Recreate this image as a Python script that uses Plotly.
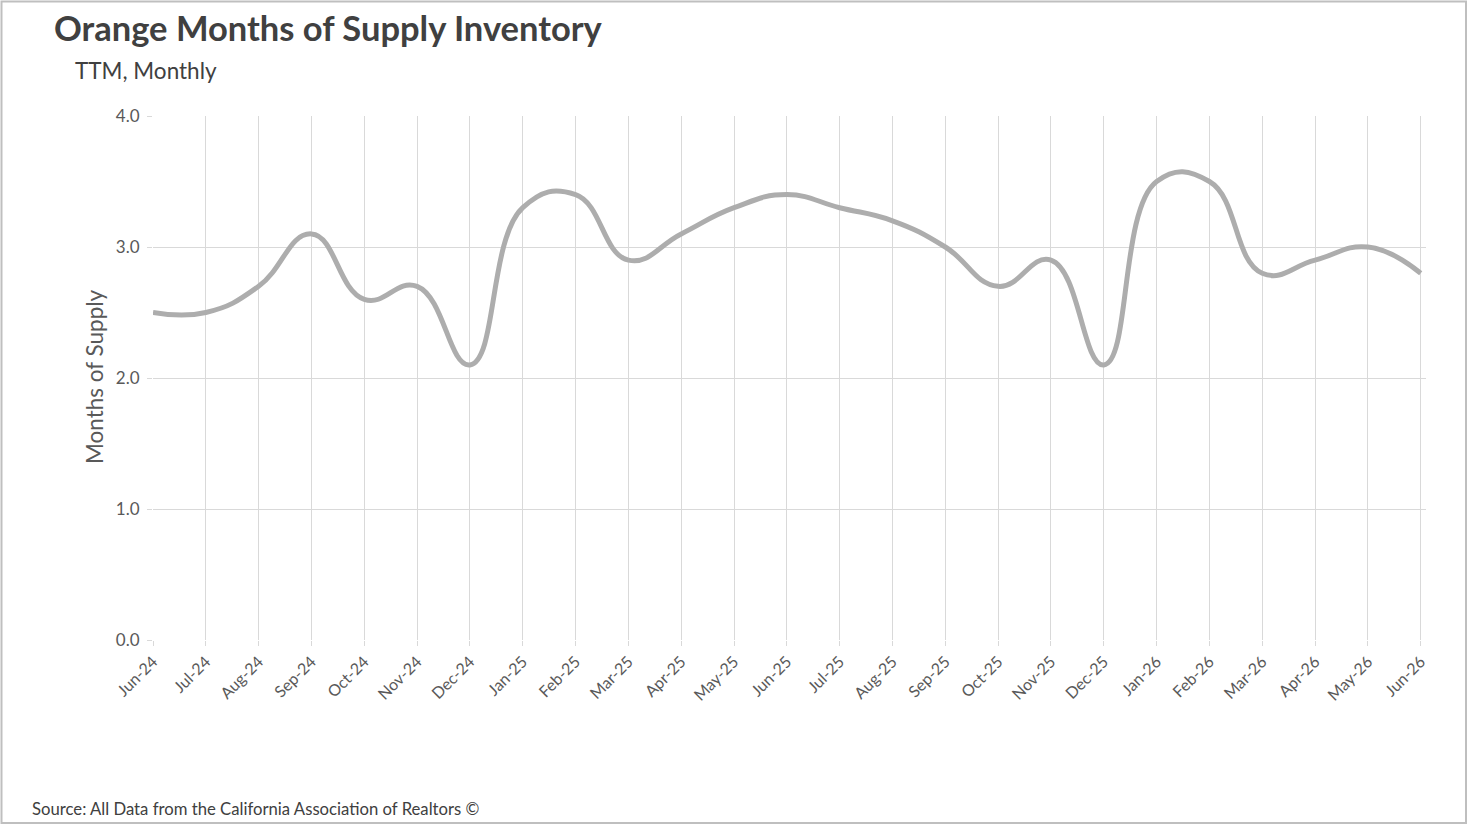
import plotly.graph_objects as go

months = ['Jun-24', 'Jul-24', 'Aug-24', 'Sep-24', 'Oct-24', 'Nov-24', 'Dec-24',
          'Jan-25', 'Feb-25', 'Mar-25', 'Apr-25', 'May-25', 'Jun-25', 'Jul-25',
          'Aug-25', 'Sep-25', 'Oct-25', 'Nov-25', 'Dec-25', 'Jan-26', 'Feb-26',
          'Mar-26', 'Apr-26', 'May-26', 'Jun-26']
supply = [2.5, 2.5, 2.7, 3.1, 2.6, 2.7, 2.1,
          3.3, 3.4, 2.9, 3.1, 3.3, 3.4, 3.3,
          3.2, 3.0, 2.7, 2.9, 2.1, 3.5, 3.5,
          2.8, 2.9, 3.0, 2.8]
y_ticks = [0, 1, 2, 3, 4]

W, H = 1470, 826
L, R, T, B = 153, 1426, 116, 640   # plot area in pixels


def px(p):
    return (p - L) / (R - L)


def py(p):
    return (B - p) / (B - T)


fig = go.Figure()
fig.add_trace(go.Scatter(
    x=list(range(len(months))),
    y=supply,
    mode='lines',
    line=dict(color='#adadad', width=5, shape='spline', smoothing=1.3),
    hoverinfo='x+y',
    showlegend=False,
))

fig.update_xaxes(
    range=[0, len(months) - 1 + 0.1],
    tickmode='array',
    tickvals=list(range(len(months))),
    ticktext=months,
    tickangle=-45,
    tickfont=dict(family='Lato', size=16, color='#595959'),
    showgrid=True,
    gridcolor='#d9d9d9',
    gridwidth=1,
    ticks='outside',
    ticklen=5,
    tickcolor='#d9d9d9',
    zeroline=False,
    showline=False,
)
fig.update_yaxes(
    range=[0, 4],
    tickmode='array',
    tickvals=y_ticks,
    ticktext=[f'{v:.1f}' for v in y_ticks],
    tickfont=dict(family='Lato', size=17, color='#595959'),
    ticklabelstandoff=4,
    showgrid=True,
    gridcolor='#d9d9d9',
    gridwidth=1,
    ticks='outside',
    ticklen=5,
    tickcolor='#d9d9d9',
    zeroline=False,
    showline=False,
)

fig.add_annotation(x=px(52), y=py(28), xref='paper', yref='paper',
                   text='<b>Orange Months of Supply Inventory</b>',
                   showarrow=False, xanchor='left', yanchor='middle',
                   font=dict(family='Lato', size=34.5, color='#404040'))
fig.add_annotation(x=px(73), y=py(70), xref='paper', yref='paper',
                   text='TTM, Monthly',
                   showarrow=False, xanchor='left', yanchor='middle',
                   font=dict(family='Lato', size=22.5, color='#404040'))
fig.add_annotation(x=px(94), y=py(377), xref='paper', yref='paper',
                   text='Months of Supply', textangle=-90,
                   showarrow=False, xanchor='center', yanchor='middle',
                   font=dict(family='Lato', size=22.5, color='#595959'))
fig.add_annotation(x=px(30), y=py(809), xref='paper', yref='paper',
                   text='Source: All Data from the California Association of Realtors ©',
                   showarrow=False, xanchor='left', yanchor='middle',
                   font=dict(family='Lato', size=16.7, color='#404040'))

# outer frame
fig.add_shape(type='rect', xref='paper', yref='paper',
              x0=px(1.5), x1=px(1466), y0=py(823), y1=py(1.5),
              line=dict(color='#bfbfbf', width=2), layer='below')

fig.update_layout(
    width=W,
    height=H,
    margin=dict(l=L, r=W - R, t=T, b=H - B),
    plot_bgcolor='white',
    paper_bgcolor='white',
    font=dict(family='Lato', color='#595959'),
)

fig.write_html('out.html', config={'displayModeBar': False},
               post_script="document.body.style.margin='0px';")
